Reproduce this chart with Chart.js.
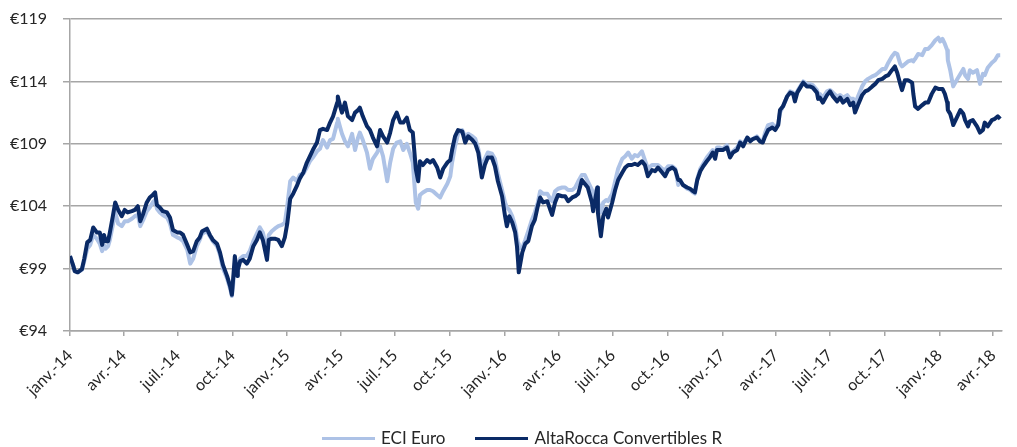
<!DOCTYPE html>
<html>
<head>
<meta charset="utf-8">
<script src="https://cdn.jsdelivr.net/npm/chart.js@4.4.1/dist/chart.umd.min.js"></script>
<style>
  html, body { margin:0; padding:0; background:#fff; }
  #wrap { position:relative; width:1017px; height:447px; }
  #legend { position:absolute; left:322px; top:428px; display:flex; align-items:center; font-family:Lato, "Open Sans", sans-serif; font-size:17px; color:#262626; line-height:20px; }
  .swatch { display:inline-block; width:53px; height:3px; margin-right:6px; }
  .item { display:flex; align-items:center; margin-right:30px; }
</style>
</head>
<body>
<div id="wrap">
  <canvas id="c" width="1017" height="447"></canvas>
  <div id="legend">
    <div class="item"><span class="swatch" style="background:#adc2e6"></span><span>ECI Euro</span></div>
    <div class="item"><span class="swatch" style="background:#0a2a66"></span><span>AltaRocca Convertibles R</span></div>
  </div>
</div>
<script>
// Days since 2014-01-01
const days = [0,5,8,13,20,24,29,34,39,45,50,54,57,60,64,67,72,76,81,87,92,97,104,109,114,118,123,129,134,139,143,146,151,156,163,168,173,180,185,190,197,202,207,213,
218,222,230,235,240,247,252,257,264,269,272,274,277,281,282,286,291,297,302,308,314,319,324,331,334,339,344,350,356,361,365,370,375,381,386,
392,398,403,408,415,420,425,432,437,442,449,450,454,457,462,467,474,479,484,487,492,499,504,509,516,521,526,533,538,543,549,555,560,566,571,576,581,585,588,
593,600,605,610,617,622,627,634,639,642,647,652,659,664,669,676,681,686,692,697,702,709,714,719,726,731,734,738,743,748,751,753,754,760,765,770,776,781,786,
790,795,802,807,810,815,820,827,832,837,844,849,854,860,865,870,877,879,886,887,892,896,901,904,911,916,921,928,933,938,944,949,954,961,966,971,978,983,988,995,1000,1005,1012,1017,1022,
1025,1030,1037,1042,1047,1050,1054,1059,1064,1070,1075,1080,1084,1087,1092,1097,1104,1109,1114,1121,1126,1131,1138,1143,1148,1154,1159,1164,1168,1173,1180,1185,1190,1193,1198,1205,1210,1215,1218,1222,1227,1232,1238,1243,1248,1255,1257,
1260,1265,1272,1277,1282,1289,1294,1299,1306,1311,1316,1319,1324,1331,1336,1341,1348,1353,1358,1365,1370,1375,1381,1386,1390,1395,1398,1403,1408,1415,1417,1420,1425,1432,1437,1442,1448,1454,1459,
1462,1466,1470,1474,1475,1479,1482,1484,1491,1496,1501,1504,1509,1512,1517,1524,1529,1534,1537,1542,1549,1554,1559,1563];

const altaRocca = [100.0,99.3,98.8,98.7,98.95,99.8,101.1,101.3,102.3,101.9,101.9,100.9,101.7,101.2,101.2,101.9,103.2,104.3,103.7,103.2,103.7,103.5,103.6,103.7,104.0,102.8,103.4,104.3,104.7,104.9,105.1,104.1,103.9,103.6,103.5,103.1,102.1,101.9,101.9,101.7,100.9,100.3,100.4,101.2,
101.5,102.0,102.2,101.7,101.3,101.0,100.3,99.3,98.4,97.6,96.9,98.1,100.0,98.4,98.9,99.6,99.7,99.4,99.8,100.8,101.3,101.9,101.3,99.7,101.3,101.4,101.4,101.3,100.8,101.5,102.6,104.6,105.0,105.6,106.2,
106.7,107.5,108.0,108.5,109.1,110.1,110.2,110.1,110.7,111.2,112.3,112.8,112.0,111.5,112.3,111.2,110.9,111.5,111.7,111.9,111.2,110.4,110.1,109.5,108.8,110.1,109.6,109.1,109.9,110.9,111.5,110.7,110.7,111.1,110.1,109.9,107.0,106.0,107.6,
107.3,107.7,107.5,107.7,107.1,106.3,107.0,107.5,107.7,108.5,109.6,110.1,110.0,109.1,109.6,109.3,109.0,108.3,106.3,107.3,107.9,107.9,107.2,106.0,104.8,103.2,102.4,103.2,102.7,101.9,100.8,99.5,98.7,100.3,101.0,101.2,102.4,102.9,104.0,
104.7,104.3,104.4,103.7,103.3,104.3,104.9,104.8,104.8,104.4,104.7,104.8,105.0,106.1,105.8,105.5,104.3,103.6,105.5,103.5,101.6,103.2,103.8,103.1,104.3,105.3,106.1,106.7,107.1,107.3,107.3,107.4,107.3,107.6,107.3,106.4,106.9,106.8,107.1,106.7,106.4,106.9,107.1,106.9,106.1,
106.1,105.7,105.5,105.4,105.2,105.1,106.1,106.8,107.2,107.6,107.9,108.3,107.8,108.5,108.5,108.5,108.7,107.9,108.3,108.5,109.1,108.8,109.5,109.2,109.4,109.5,109.2,109.1,109.6,110.1,110.3,110.1,110.5,111.7,112.0,112.8,113.1,113.0,112.4,113.1,113.5,113.9,113.6,113.6,113.5,113.1,112.6,
112.7,112.3,112.9,113.2,112.8,112.4,112.7,112.3,112.6,112.1,112.3,111.5,112.1,112.9,113.2,113.3,113.6,113.8,114.1,114.2,114.4,114.5,114.9,115.2,114.7,113.8,113.3,114.1,114.1,113.9,113.0,112.0,111.8,112.1,112.3,112.3,113.0,113.5,113.4,
113.4,113.4,113.0,112.3,111.7,111.4,110.9,110.5,111.2,111.7,111.4,110.9,110.4,110.8,110.9,110.4,109.9,110.1,110.7,110.4,110.9,111.0,111.2,111.0];

const eciEuro = [100.0,99.3,98.8,98.7,98.9,99.6,100.6,100.9,101.7,101.4,101.0,100.4,100.9,100.6,100.8,101.3,102.5,103.5,102.6,102.4,102.8,102.8,103.0,103.2,103.3,102.4,102.9,103.6,103.9,104.3,104.5,103.8,103.5,103.3,103.1,102.6,101.7,101.5,101.4,101.2,100.5,99.4,99.8,100.8,
101.3,101.8,102.0,101.6,101.2,100.8,100.1,99.0,98.2,97.4,96.8,97.6,99.4,98.8,99.2,99.8,100.0,100.0,100.4,101.2,101.8,102.3,101.9,100.5,101.7,102.0,102.2,102.4,102.5,102.7,104.0,106.0,106.3,106.0,106.5,
106.6,107.1,107.6,107.9,108.4,108.6,109.3,108.7,109.3,109.4,110.7,111.0,110.3,109.8,109.2,108.8,109.8,108.5,109.5,109.9,109.3,108.3,107.0,107.8,108.3,108.8,108.0,106.0,107.5,108.6,109.1,109.2,108.5,109.0,108.3,107.5,104.3,103.8,104.9,
105.1,105.3,105.3,105.2,104.9,104.7,105.2,105.8,106.4,107.5,108.8,109.8,110.1,109.6,109.8,109.6,109.4,108.6,107.0,107.8,108.3,108.2,107.8,106.6,105.3,104.3,103.9,103.7,103.2,102.4,101.5,101.0,100.6,100.7,101.3,102.0,102.9,103.5,104.3,
105.2,105.0,105.0,104.6,104.4,105.2,105.4,105.5,105.5,105.3,105.3,105.5,106.0,106.5,106.5,106.0,105.3,104.7,105.5,104.4,103.5,104.3,104.5,104.4,105.0,106.0,107.0,107.8,108.0,108.3,107.8,108.1,108.0,108.4,107.7,107.0,107.3,107.3,107.3,107.0,106.9,107.2,107.2,107.0,105.7,
106.0,105.7,105.4,105.3,105.1,105.0,106.2,107.0,107.4,107.9,108.2,108.5,108.0,108.7,108.7,108.6,108.9,108.0,108.4,108.7,109.2,109.0,109.5,109.3,109.4,109.6,109.3,109.2,109.9,110.5,110.6,110.3,110.6,111.5,112.0,112.8,113.2,113.1,112.7,113.2,113.6,114.0,113.8,113.8,113.7,113.3,113.0,
113.0,112.7,113.2,113.3,113.1,112.8,112.9,112.7,112.9,112.6,112.6,112.2,112.8,113.6,114.0,114.2,114.4,114.5,114.7,115.0,115.0,115.5,116.0,116.3,116.2,115.4,115.2,115.4,115.6,115.7,115.6,115.8,116.2,116.1,116.6,116.6,116.9,117.3,117.5,
117.2,117.4,117.0,116.5,115.7,114.9,114.1,113.6,114.2,114.6,115.0,114.5,114.2,114.9,114.7,114.9,113.8,114.6,114.5,115.1,115.5,115.7,116.1,116.1];

const tickDates = ['2014-01-01','2014-04-01','2014-07-01','2014-10-01','2015-01-01','2015-04-01','2015-07-01','2015-10-01','2016-01-01','2016-04-01','2016-07-01','2016-10-01','2017-01-01','2017-04-01','2017-07-01','2017-10-01','2018-01-01','2018-04-01'];
const tickLabels = ['janv.-14','avr.-14','juil.-14','oct.-14','janv.-15','avr.-15','juil.-15','oct.-15','janv.-16','avr.-16','juil.-16','oct.-16','janv.-17','avr.-17','juil.-17','oct.-17','janv.-18','avr.-18'];
const yTicks = [94,99,104,109,114,119];

const t0 = Date.UTC(2014,0,1);
const tickDays = tickDates.map(s => { const [y,m,d] = s.split('-').map(Number); return Math.round((Date.UTC(y,m-1,d)-t0)/86400000); });

const alta = days.map((d,i) => ({x:d, y:altaRocca[i]}));
const eci = days.map((d,i) => ({x:d, y:eciEuro[i]}));

const FONT = {family:'Lato, "Open Sans", sans-serif', size:16};
const GRID = '#a6a6a6';

new Chart(document.getElementById('c'), {
  type:'line',
  data:{ datasets:[
    {label:'AltaRocca Convertibles R', data:alta, borderColor:'#0a2a66', backgroundColor:'#0a2a66', borderWidth:4, pointRadius:0, tension:0, borderJoinStyle:'round'},
    {label:'ECI Euro', data:eci, borderColor:'#adc2e6', backgroundColor:'#adc2e6', borderWidth:4, pointRadius:0, tension:0, borderJoinStyle:'round'}
  ]},
  options:{
    responsive:false, animation:false, devicePixelRatio:1,
    layout:{padding:{left:0, right:15, top:19, bottom:26}},
    plugins:{legend:{display:false}, tooltip:{enabled:false}},
    scales:{
      x:{type:'linear', min:0, max:1566,
        afterBuildTicks: s => { s.ticks = tickDays.map(v => ({value:v})); },
        afterFit: s => { s.height = 90; },
        ticks:{autoSkip:false, maxRotation:45, minRotation:45, padding:10, color:'#262626', font:FONT,
          callback:(v,i) => tickLabels[i]},
        grid:{drawOnChartArea:false, drawTicks:true, tickLength:5, color:GRID, lineWidth:1.5},
        border:{display:true, color:GRID, width:1.5}
      },
      y:{min:94, max:119,
        afterBuildTicks: s => { s.ticks = yTicks.map(v => ({value:v})); },
        afterFit: s => { s.width = 70; s.paddingTop = 0; s.paddingBottom = 0; },
        ticks:{padding:16, color:'#262626', font:FONT, callback:v => '€' + v},
        grid:{color:GRID, lineWidth:1.5, tickLength:7},
        border:{display:true, color:GRID, width:1.5}
      }
    }
  }
});
</script>
</body>
</html>
